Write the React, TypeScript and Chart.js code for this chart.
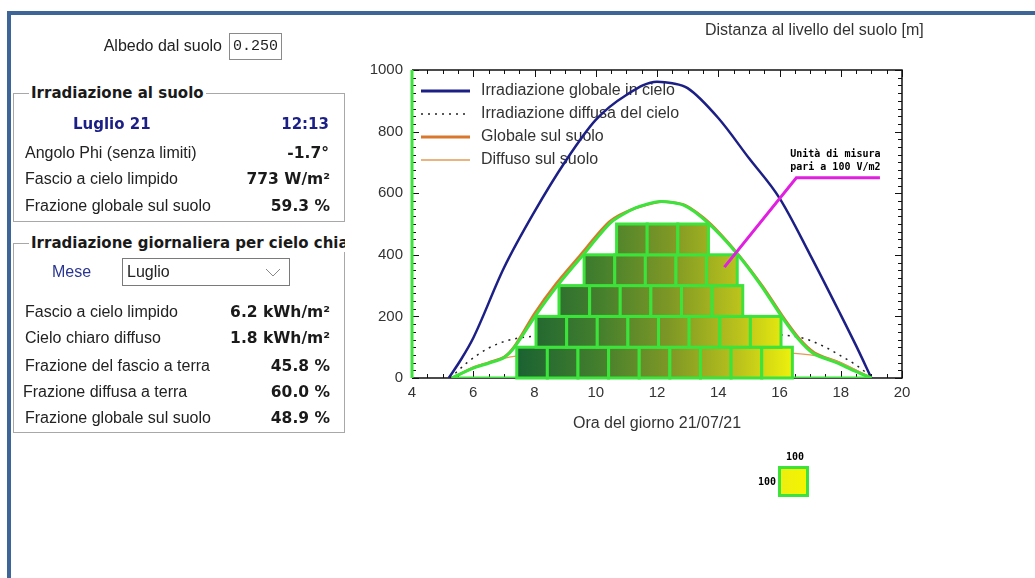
import React, { useEffect, useRef } from 'react';
import { Chart, registerables } from 'chart.js';

Chart.register(...registerables);

// ---------- data ----------
const xTickValues = [4, 6, 8, 10, 12, 14, 16, 18, 20];
const yTickValues = [0, 200, 400, 600, 800, 1000];

const skyGlobalHours = [5.2, 5.6, 6.0, 7.0, 8.0, 9.0, 10.0, 11.0, 12.0, 12.5, 13.0, 14.0, 15.0, 16.0, 17.0, 18.0, 18.5, 19.0];
const skyGlobalValues = [0, 60, 130, 357, 540, 702, 838, 919, 962, 957, 941, 844, 714, 584, 400, 205, 105, 0];

const skyDiffuseHours = [5.25, 5.8, 6.5, 7.0, 7.5, 8.0, 10.0, 12.0, 14.0, 16.0, 16.5, 17.0, 17.5, 18.0, 18.5, 19.05];
const skyDiffuseValues = [0, 50, 97, 118, 130, 136, 148, 152, 148, 140, 135, 122, 100, 72, 42, 0];

const groundGlobalHours = [5.3, 6.0, 6.5, 7.0, 7.35, 8.0, 8.7, 9.5, 10.45, 11.3, 12.15, 12.9, 13.7, 14.65, 15.45, 16.15, 16.65, 17.15, 17.9, 18.4, 19.0];
const groundGlobalValues = [0, 33, 50, 68, 104, 210, 306, 400, 508, 552, 572, 562, 505, 402, 298, 194, 128, 82, 52, 28, 0];

const groundDiffuseHours = [5.3, 6.0, 6.5, 7.0, 8.0, 10.0, 12.0, 14.0, 16.0, 16.5, 17.0, 17.5, 18.0, 18.5, 19.0];
const groundDiffuseValues = [0, 36, 50, 64, 78, 86, 90, 86, 82, 80, 75, 66, 50, 26, 0];

const envelopeHours = [5.3, 6.0, 6.5, 7.0, 7.35, 8.05, 8.75, 9.55, 10.5, 11.3, 12.1, 12.9, 13.65, 14.6, 15.4, 16.1, 16.6, 17.1, 17.9, 18.4, 19.0];
const envelopeValues = [0, 32, 48, 66, 100, 205, 300, 395, 505, 552, 573, 560, 505, 405, 300, 195, 128, 80, 48, 25, 0];

const baselineHours = [5.3, 19.0];
const baselineValues = [0, 0];

const blockRowStart = [7.42, 8.05, 8.8, 9.62, 10.68];
const blockRowCount = [9, 8, 6, 5, 3];
const blockWidthHours = 1.0;
const blockUnit = 100;

const annotationLineHours = [14.2, 16.55, 19.28];
const annotationLineValues = [360, 650, 650];
const annotationText = ['Unità di misura', 'pari a 100 V/m2'];
const annotationTextHour = 16.35;
const annotationTextValues = [726, 683];

const legendLabels = [
  'Irradiazione globale in cielo',
  'Irradiazione diffusa del cielo',
  'Globale sul suolo',
  'Diffuso sul suolo',
];

// ---------- styles ----------
const GREEN = '#3be33b';
const NAVY = '#1c1f86';
const ORANGE = '#d9782c';
const ORANGE_LIGHT = '#e49a55';
const MAGENTA = '#e01fe0';
const CHART_FONT = '"Liberation Sans", Arial, sans-serif';
const ENVELOPE_INDEX = 1;

const pts = (xs: number[], ys: number[]) => xs.map((x, i) => ({ x, y: ys[i] }));

const decorPlugin = {
  id: 'decor',
  beforeDatasetsDraw(chart: any) {
    const { ctx, chartArea: a, scales } = chart;
    const x = scales.x;
    const y = scales.y;
    ctx.save();
    // frame
    ctx.strokeStyle = '#111';
    ctx.lineWidth = 1.5;
    ctx.beginPath();
    ctx.moveTo(a.left, a.top);
    ctx.lineTo(a.right, a.top);
    ctx.lineTo(a.right, a.bottom);
    ctx.lineTo(a.left, a.bottom);
    ctx.stroke();
    // ticks
    ctx.lineWidth = 1;
    ctx.beginPath();
    for (let i = 0; i <= 32; i++) {
      const v = 4 + i * 0.5;
      const px = Math.round(x.getPixelForValue(v)) + 0.5;
      const len = i % 4 === 0 ? 7 : 4;
      ctx.moveTo(px, a.bottom);
      ctx.lineTo(px, a.bottom - len);
      ctx.moveTo(px, a.top);
      ctx.lineTo(px, a.top + len);
    }
    for (let i = 0; i <= 40; i++) {
      const v = i * 25;
      const py = Math.round(y.getPixelForValue(v)) + 0.5;
      const len = i % 8 === 0 ? 7 : 4;
      ctx.moveTo(a.left, py);
      ctx.lineTo(a.left + len, py);
      ctx.moveTo(a.right, py);
      ctx.lineTo(a.right - len, py);
    }
    ctx.stroke();
    // green left axis
    ctx.strokeStyle = GREEN;
    ctx.lineWidth = 3;
    ctx.beginPath();
    ctx.moveTo(a.left, a.top);
    ctx.lineTo(a.left, a.bottom);
    ctx.stroke();
    // legend inside plot
    const items = chart.data.datasets.filter((d: any) => d.inLegend);
    ctx.font = `16px ${CHART_FONT}`;
    ctx.textBaseline = 'middle';
    ctx.textAlign = 'left';
    items.forEach((d: any, i: number) => {
      const ly = a.top + 21 + i * 23;
      ctx.strokeStyle = d.borderColor;
      ctx.lineWidth = d.legendWidth;
      ctx.setLineDash(d.borderDash || []);
      ctx.beginPath();
      ctx.moveTo(a.left + 9, ly);
      ctx.lineTo(a.left + 58, ly);
      ctx.stroke();
      ctx.setLineDash([]);
      ctx.fillStyle = '#333';
      ctx.fillText(d.label, a.left + 69, ly);
    });
    ctx.restore();
  },
  beforeDatasetDraw(chart: any, args: any) {
    if (args.index !== ENVELOPE_INDEX) return;
    const { ctx, scales } = chart;
    const x = scales.x;
    const y = scales.y;
    ctx.save();
    const g = ctx.createLinearGradient(x.getPixelForValue(7.42), 0, x.getPixelForValue(16.42), 0);
    g.addColorStop(0, '#1a6232');
    g.addColorStop(0.3, '#447f2d');
    g.addColorStop(0.55, '#7d9726');
    g.addColorStop(0.8, '#b9c11c');
    g.addColorStop(1, '#eef00c');
    ctx.lineWidth = 3;
    ctx.strokeStyle = GREEN;
    blockRowStart.forEach((start, r) => {
      for (let c = 0; c < blockRowCount[r]; c++) {
        const x0 = x.getPixelForValue(start + c * blockWidthHours);
        const x1 = x.getPixelForValue(start + (c + 1) * blockWidthHours);
        const y0 = y.getPixelForValue(r * blockUnit);
        const y1 = y.getPixelForValue((r + 1) * blockUnit);
        ctx.fillStyle = g;
        ctx.fillRect(x0, y1, x1 - x0, y0 - y1);
        ctx.strokeRect(x0, y1, x1 - x0, y0 - y1);
      }
    });
    ctx.restore();
  },
  afterDatasetsDraw(chart: any) {
    const { ctx, scales } = chart;
    const x = scales.x;
    const y = scales.y;
    ctx.save();
    ctx.font = 'bold 10px "DejaVu Sans Mono", monospace';
    ctx.fillStyle = '#000';
    ctx.textBaseline = 'middle';
    ctx.textAlign = 'left';
    annotationText.forEach((t, i) => {
      ctx.fillText(t, x.getPixelForValue(annotationTextHour), y.getPixelForValue(annotationTextValues[i]));
    });
    ctx.restore();
  },
};

function ChartCanvas() {
  const ref = useRef<HTMLCanvasElement>(null);
  useEffect(() => {
    const canvas = ref.current;
    if (!canvas) return;
    const chart = new Chart(canvas, {
      type: 'line',
      data: {
        datasets: [
          {
            label: 'annotazione',
            data: pts(annotationLineHours, annotationLineValues),
            borderColor: MAGENTA,
            borderWidth: 3,
            pointRadius: 0,
            tension: 0,
            order: 0,
          },
          {
            label: 'inviluppo',
            data: pts(envelopeHours, envelopeValues),
            borderColor: GREEN,
            borderWidth: 3,
            pointRadius: 0,
            tension: 0.25,
            order: 1,
          },
          {
            label: 'base',
            data: pts(baselineHours, baselineValues),
            borderColor: GREEN,
            borderWidth: 3,
            pointRadius: 0,
            tension: 0,
            order: 1,
          },
          {
            label: legendLabels[0],
            data: pts(skyGlobalHours, skyGlobalValues),
            borderColor: NAVY,
            borderWidth: 2.5,
            pointRadius: 0,
            cubicInterpolationMode: 'monotone',
            order: 5,
            inLegend: true,
            legendWidth: 3,
          } as any,
          {
            label: legendLabels[1],
            data: pts(skyDiffuseHours, skyDiffuseValues),
            borderColor: '#222',
            borderWidth: 1.5,
            borderDash: [2, 5],
            pointRadius: 0,
            cubicInterpolationMode: 'monotone',
            order: 4,
            inLegend: true,
            legendWidth: 1.5,
          } as any,
          {
            label: legendLabels[2],
            data: pts(groundGlobalHours, groundGlobalValues),
            borderColor: ORANGE,
            borderWidth: 2.5,
            pointRadius: 0,
            tension: 0.25,
            order: 3,
            inLegend: true,
            legendWidth: 3,
          } as any,
          {
            label: legendLabels[3],
            data: pts(groundDiffuseHours, groundDiffuseValues),
            borderColor: ORANGE_LIGHT,
            borderWidth: 1.3,
            pointRadius: 0,
            cubicInterpolationMode: 'monotone',
            order: 2,
            inLegend: true,
            legendWidth: 1.5,
          } as any,
        ],
      },
      options: {
        responsive: false,
        animation: false,
        devicePixelRatio: 1,
        layout: { padding: { left: 367, right: 133, top: 70, bottom: 140 } },
        plugins: { legend: { display: false }, tooltip: { enabled: false } },
        scales: {
          x: {
            type: 'linear',
            min: 4,
            max: 20,
            afterBuildTicks: (s: any) => {
              s.ticks = xTickValues.map((v) => ({ value: v }));
            },
            afterFit: (s: any) => {
              s.height = 60;
            },
            grid: { display: false, drawTicks: false },
            border: { display: false },
            ticks: {
              color: '#333',
              font: { size: 15, family: CHART_FONT },
              padding: 6,
              maxRotation: 0,
              callback: (v: any) => String(v),
            },
            title: {
              display: true,
              text: 'Ora del giorno 21/07/21',
              color: '#333',
              font: { size: 16, family: CHART_FONT },
              padding: { top: 0, bottom: 5 },
            },
          },
          y: {
            type: 'linear',
            min: 0,
            max: 1000,
            afterBuildTicks: (s: any) => {
              s.ticks = yTickValues.map((v) => ({ value: v }));
            },
            afterFit: (s: any) => {
              s.width = 45;
            },
            grid: { display: false, drawTicks: false },
            border: { display: false },
            ticks: {
              color: '#333',
              font: { size: 15, family: CHART_FONT },
              padding: 9,
              callback: (v: any) => String(v),
            },
          },
        },
      } as any,
      plugins: [decorPlugin],
    });
    return () => chart.destroy();
  }, []);
  return (
    <canvas
      ref={ref}
      width={1035}
      height={578}
      style={{ position: 'absolute', left: 0, top: 0, width: 1035, height: 578, display: 'block' }}
    />
  );
}

const LABEL_FONT = '"Liberation Sans", Arial, sans-serif';
const BOLD_FONT = '"DejaVu Sans", Verdana, sans-serif';

function Label(props: { text: string; x?: number; right?: number; y: number; color?: string }) {
  const pos: any = props.right !== undefined ? { right: 1035 - props.right } : { left: props.x };
  return (
    <div
      style={{
        position: 'absolute',
        ...pos,
        top: props.y,
        transform: 'translateY(-50%)',
        font: `16px ${LABEL_FONT}`,
        color: props.color || '#222',
        whiteSpace: 'nowrap',
        lineHeight: '18px',
      }}
    >
      {props.text}
    </div>
  );
}

function Value(props: { text: string; right: number; y: number; color?: string }) {
  return (
    <div
      style={{
        position: 'absolute',
        right: 1035 - props.right,
        top: props.y,
        transform: 'translateY(-50%)',
        font: `bold 15.5px ${BOLD_FONT}`,
        color: props.color || '#1a1a1a',
        whiteSpace: 'nowrap',
        lineHeight: '18px',
      }}
    >
      {props.text}
    </div>
  );
}

function GroupBox(props: { title: string; top: number; bottom: number }) {
  return (
    <>
      <div
        style={{
          position: 'absolute',
          left: 13,
          top: props.top,
          width: 332,
          height: props.bottom - props.top,
          border: '1px solid #a8a8a8',
          boxSizing: 'border-box',
        }}
      />
      <div
        style={{
          position: 'absolute',
          left: 29,
          top: props.top,
          width: 316,
          overflow: 'hidden',
          transform: 'translateY(-50%)',
          height: 20,
        }}
      >
        <span
          style={{
            background: '#fff',
            font: `bold 15px ${BOLD_FONT}`,
            color: '#1a1a1a',
            whiteSpace: 'nowrap',
            lineHeight: '20px',
            padding: '0 2px',
          }}
        >
          {props.title}
        </span>
      </div>
    </>
  );
}

export default function App() {
  return (
    <div
      style={{
        position: 'fixed',
        left: 0,
        top: 0,
        width: 1035,
        height: 578,
        overflow: 'hidden',
        background: '#fff',
      }}
    >
      <ChartCanvas />
      {/* window frame */}
      <div style={{ position: 'absolute', left: 7, top: 11, width: 1028, height: 4, background: '#3d6598' }} />
      <div style={{ position: 'absolute', left: 7, top: 11, width: 4, height: 567, background: '#3d6598' }} />

      {/* albedo */}
      <Label text="Albedo dal suolo" right={222} y={46} />
      <div
        style={{
          position: 'absolute',
          left: 229,
          top: 33,
          width: 53,
          height: 27,
          border: '1px solid #8a8a8a',
          boxSizing: 'border-box',
          font: `15px "Liberation Mono", monospace`,
          color: '#222',
          lineHeight: '25px',
          paddingLeft: 3,
        }}
      >
        0.250
      </div>

      {/* group 1 */}
      <GroupBox title="Irradiazione al suolo" top={93} bottom={222} />
      <div
        style={{
          position: 'absolute',
          left: 73,
          top: 124,
          transform: 'translateY(-50%)',
          font: `bold 15px ${BOLD_FONT}`,
          color: NAVY,
          whiteSpace: 'nowrap',
        }}
      >
        Luglio 21
      </div>
      <div
        style={{
          position: 'absolute',
          right: 1035 - 329,
          top: 124,
          transform: 'translateY(-50%)',
          font: `bold 15px ${BOLD_FONT}`,
          color: NAVY,
          whiteSpace: 'nowrap',
        }}
      >
        12:13
      </div>
      <Label text="Angolo Phi (senza limiti)" x={25} y={153} />
      <Value text="-1.7°" right={329} y={153} />
      <Label text="Fascio a cielo limpido" x={25} y={179} />
      <Value text="773 W/m²" right={330} y={179} />
      <Label text="Frazione globale sul suolo" x={25} y={206} />
      <Value text="59.3 %" right={330} y={206} />

      {/* group 2 */}
      <GroupBox title="Irradiazione giornaliera per cielo chiaro" top={243} bottom={433} />
      <Label text="Mese" x={52} y={272} color="#2a3590" />
      <div
        style={{
          position: 'absolute',
          left: 122,
          top: 258,
          width: 168,
          height: 28,
          border: '1px solid #7a7a7a',
          boxSizing: 'border-box',
          background: '#fff',
        }}
      >
        <div style={{ position: 'absolute', left: 4, top: 4, font: `16px ${LABEL_FONT}`, color: '#222' }}>Luglio</div>
        <svg width="16" height="10" style={{ position: 'absolute', right: 8, top: 9 }}>
          <polyline points="1,1 8,8 15,1" fill="none" stroke="#888" strokeWidth="1" />
        </svg>
      </div>
      <Label text="Fascio a cielo limpido" x={25} y={312} />
      <Value text="6.2 kWh/m²" right={330} y={312} />
      <Label text="Cielo chiaro diffuso" x={25} y={338} />
      <Value text="1.8 kWh/m²" right={330} y={338} />
      <Label text="Frazione del fascio a terra" x={25} y={366} />
      <Value text="45.8 %" right={330} y={366} />
      <Label text="Frazione diffusa a terra" x={23} y={392} />
      <Value text="60.0 %" right={330} y={392} />
      <Label text="Frazione globale sul suolo" x={25} y={418} />
      <Value text="48.9 %" right={330} y={418} />

      {/* top right caption */}
      <div
        style={{
          position: 'absolute',
          left: 705,
          top: 30,
          transform: 'translateY(-50%)',
          font: `16px ${LABEL_FONT}`,
          color: '#333',
          whiteSpace: 'nowrap',
        }}
      >
        Distanza al livello del suolo [m]
      </div>

      {/* unit square */}
      <div
        style={{
          position: 'absolute',
          left: 778,
          top: 466,
          width: 31,
          height: 31,
          border: `3px solid ${GREEN}`,
          boxSizing: 'border-box',
          background: 'linear-gradient(90deg, #eeee10, #f4f400)',
        }}
      />
      <div
        style={{
          position: 'absolute',
          left: 786,
          top: 451,
          font: 'bold 10px "DejaVu Sans Mono", monospace',
          color: '#000',
        }}
      >
        100
      </div>
      <div
        style={{
          position: 'absolute',
          left: 758,
          top: 476,
          font: 'bold 10px "DejaVu Sans Mono", monospace',
          color: '#000',
        }}
      >
        100
      </div>
    </div>
  );
}
